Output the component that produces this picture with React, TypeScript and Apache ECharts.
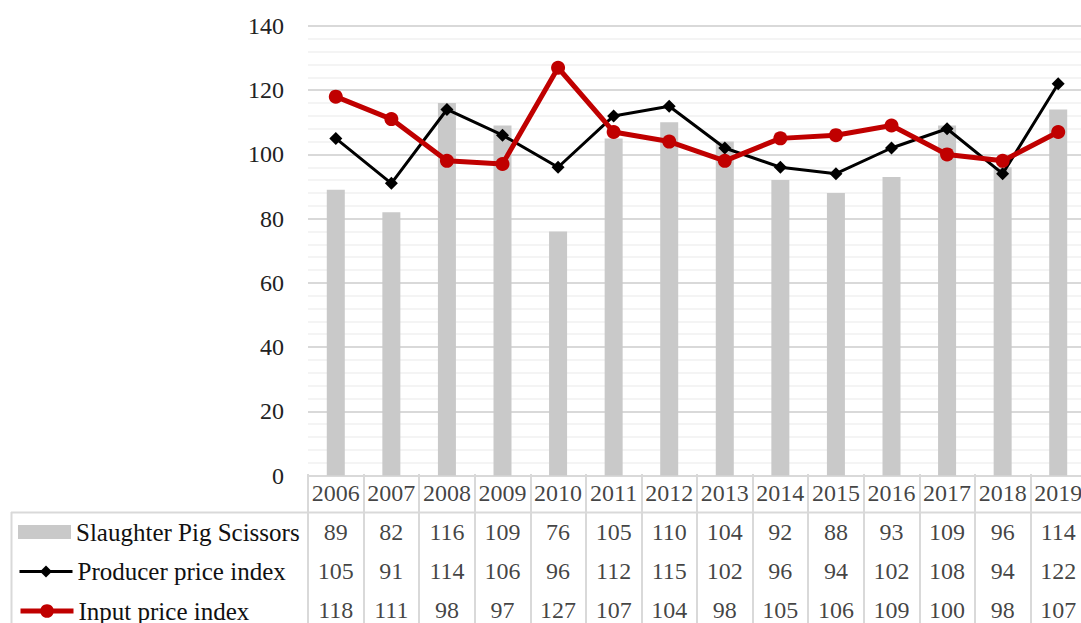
import React, { useEffect, useRef } from "react";
import * as echarts from "echarts";

const years = ["2006", "2007", "2008", "2009", "2010", "2011", "2012", "2013", "2014", "2015", "2016", "2017", "2018", "2019"];
const scissors = [89, 82, 116, 109, 76, 105, 110, 104, 92, 88, 93, 109, 96, 114];
const producer = [105, 91, 114, 106, 96, 112, 115, 102, 96, 94, 102, 108, 94, 122];
const input = [118, 111, 98, 97, 127, 107, 104, 98, 105, 106, 109, 100, 98, 107];
const yTicks = [0, 20, 40, 60, 80, 100, 120, 140];

const NAME_S = "Slaughter Pig Scissors";
const NAME_P = "Producer price index";
const NAME_I = "Input price index";
const rowKeys = ["year", "s", "p", "i"];

const FONT = "'Liberation Serif', 'Times New Roman', serif";

export default function App() {
  const ref = useRef<HTMLDivElement>(null);
  useEffect(() => {
    if (!ref.current) return;
    const chart = echarts.init(ref.current, undefined, { renderer: "svg" });
    const rows = [years, scissors, producer, input];
    const tableData: any[] = [];
    rows.forEach((row, r) => {
      row.forEach((v, c) => {
        tableData.push([c, r, String(v)]);
      });
    });
    const gridLeft = 308;
    const gridWidth = 778;
    const legendBase = {
      orient: "horizontal",
      left: 18,
      padding: 0,
      itemWidth: 53,
      textStyle: { fontFamily: FONT, fontSize: 25, color: "#111", lineHeight: 24 },
      selectedMode: false,
    };
    chart.setOption({
      animation: false,
      textStyle: { fontFamily: FONT },
      grid: [
        { left: gridLeft, top: 26, width: gridWidth, height: 449.5 },
        { left: gridLeft, top: 474, width: gridWidth, height: 155 },
      ],
      legend: [
        { ...legendBase, top: 519.5, itemHeight: 14, data: [{ name: NAME_S, icon: "rect" }] },
        { ...legendBase, top: 559, itemHeight: 15, lineStyle: { width: 3 }, data: [NAME_P] },
        { ...legendBase, top: 598.5, itemHeight: 17, lineStyle: { width: 5 }, data: [NAME_I] },
      ],
      xAxis: [
        {
          type: "category",
          gridIndex: 0,
          data: years,
          boundaryGap: true,
          axisLine: { show: false },
          axisTick: { show: false },
          axisLabel: { show: false },
          splitLine: { show: false },
        },
        {
          type: "category",
          gridIndex: 1,
          data: years,
          boundaryGap: true,
          axisLine: { show: false },
          axisTick: { show: false },
          axisLabel: { show: false },
          splitLine: { show: true, interval: 0, lineStyle: { color: "#d9d9d9", width: 2 } },
        },
      ],
      yAxis: [
        {
          type: "value",
          gridIndex: 0,
          min: yTicks[0],
          max: yTicks[yTicks.length - 1],
          interval: 20,
          axisLine: { show: false },
          axisTick: { show: false },
          axisLabel: { fontSize: 24, color: "#222", margin: 24, fontFamily: FONT },
          splitLine: { show: true, lineStyle: { color: "#d9d9d9", width: 2 } },
          minorTick: { show: false, splitNumber: 5 },
          minorSplitLine: { show: true, lineStyle: { color: "#f0f0f0", width: 1.5 } },
        },
        {
          type: "category",
          gridIndex: 1,
          data: rowKeys,
          inverse: true,
          axisLine: { show: false },
          axisTick: { show: false },
          axisLabel: { show: false },
          splitLine: { show: false },
        },
      ],
      graphic: [
        { type: "line", shape: { x1: 11, y1: 512.5, x2: 1100, y2: 512.5 }, style: { stroke: "#d9d9d9", lineWidth: 2 }, silent: true },
        { type: "line", shape: { x1: 11.5, y1: 512, x2: 11.5, y2: 640 }, style: { stroke: "#d9d9d9", lineWidth: 2 }, silent: true },
      ],
      series: [
        {
          name: NAME_S,
          type: "bar",
          xAxisIndex: 0,
          yAxisIndex: 0,
          data: scissors,
          barWidth: 18,
          itemStyle: { color: "#c9c9c9" },
          z: 1,
        },
        {
          name: NAME_P,
          type: "line",
          xAxisIndex: 0,
          yAxisIndex: 0,
          data: producer,
          symbol: "diamond",
          symbolSize: 13,
          lineStyle: { color: "#000", width: 3 },
          itemStyle: { color: "#000" },
          z: 3,
        },
        {
          name: NAME_I,
          type: "line",
          xAxisIndex: 0,
          yAxisIndex: 0,
          data: input,
          symbol: "circle",
          symbolSize: 14,
          lineStyle: { color: "#c00000", width: 5 },
          itemStyle: { color: "#c00000" },
          z: 4,
        },
        {
          name: "table",
          type: "scatter",
          xAxisIndex: 1,
          yAxisIndex: 1,
          data: tableData,
          symbolSize: 1,
          itemStyle: { color: "rgba(0,0,0,0)" },
          silent: true,
          label: {
            show: true,
            position: "inside",
            formatter: (p: any) => p.value[2],
            fontFamily: FONT,
            fontSize: 24,
            color: "#111",
          },
        },
      ],
    });
    return () => chart.dispose();
  }, []);
  return (
    <div style={{ position: "fixed", left: 0, top: 0, width: 1081, height: 623, overflow: "hidden", background: "#fff" }}>
      <div ref={ref} style={{ width: 1100, height: 640 }} />
    </div>
  );
}
